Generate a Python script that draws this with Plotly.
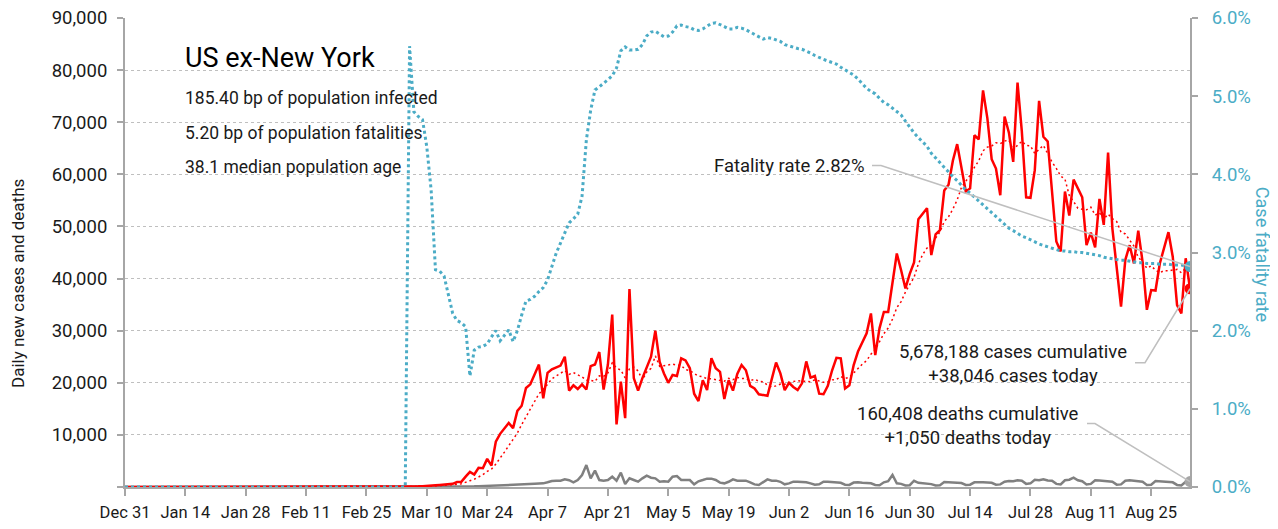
import pandas as pd
import plotly.graph_objects as go

start_date = "2019-12-31"

daily_cases = [
    0, 0, 0, 0, 0, 0, 0, 0, 0, 0, 0, 0, 0, 0, 0, 0, 0, 0, 0, 0, 0,
    1, 0, 0, 0, 1, 0, 0, 0, 0, 0, 1, 0, 0, 0, 0, 0, 0, 0, 0, 0, 0, 0, 0, 0, 0,
    0, 0, 0, 0, 0, 1, 0, 1, 2, 5, 8, 10, 5, 15, 20, 25, 30, 45, 55, 70,
    60, 90, 120, 150, 250, 300, 350, 400, 450, 550,
    600, 950, 1000, 2000, 2900, 2400, 3700, 3600, 5400, 4100,
    8700, 10200, 11200, 12300, 11300, 14600, 15600, 19000, 19700, 21500,
    23500, 17000, 21900, 22600, 23000, 23300, 25000, 18500, 19500, 18800,
    19700, 18700, 23200, 23500, 25900, 18700, 23500, 33100, 12000, 20200,
    13200, 38000, 20900, 18500, 20900, 22800, 25000, 30000, 24000, 21800,
    20000, 21500, 21300, 24700, 24300, 22800, 17900, 16500, 20500, 18600,
    24700, 22800, 22100, 16900, 20500, 18500, 21700, 23400, 22400, 19400,
    18900, 17800, 17600, 17500, 20700, 23900, 21800, 18600, 20000, 19200,
    18600, 19900, 24100, 21000, 21300, 17900, 17800, 19400, 22400, 24800,
    24700, 18900, 19500, 23400, 26000, 27800, 29500, 33300, 25300, 30500,
    33600, 33600, 39700, 44800, 41600, 38100, 40900, 43100, 51400, 52400,
    53500, 44500, 48500, 49300, 56900, 58000, 62600, 65800, 61500, 56700,
    57300, 67500, 66700, 76100, 70800, 62900, 61100, 56000, 71100, 68000,
    62400, 77600, 68200, 55600, 55500, 60800, 74100, 67200, 66300, 57000,
    47100, 45200, 56700, 52100, 59000, 57300, 55600, 46400, 48800, 46000,
    55300, 50300, 64200, 49600, 42300, 34600, 43600, 46400, 42900, 49200,
    43200, 34000, 37800, 37700, 42900, 45900, 48900, 44200, 34900, 33300,
    43900, 38046,
]

daily_deaths = [
    0, 0, 0, 0, 0, 0, 0, 0, 0, 0, 0, 0, 0, 0, 0, 0, 0, 0, 0, 0,
    0, 0, 0, 0, 0, 0, 0, 0, 0, 0, 0, 0, 0, 0, 0, 0, 0, 0, 0, 0,
    0, 0, 0, 0, 0, 0, 0, 0, 0, 0, 0, 0, 0, 0, 0, 0, 0, 0, 0, 0,
    1, 0, 1, 2, 1, 3,
    2, 3, 4, 5, 8, 10, 12, 15, 20, 25,
    40, 50, 60, 80, 100, 120, 150, 180, 200, 220,
    200, 230, 260, 300, 330, 380, 420, 480, 550, 600,
    650, 700, 900, 1150, 1220, 1220, 1470, 1300, 900, 1340,
    2300, 4220, 1660, 3140, 1340, 1220, 1340, 1980, 1220, 2750,
    580, 1660, 1340, 1020, 1660, 2170, 1790, 1660, 1020, 1100,
    1020, 1980, 2110, 1340, 1340, 1340, 510, 1100, 1340, 1600,
    1600, 1340, 830, 700, 1000, 1470, 1220, 1220, 1220, 900,
    500, 380, 900, 1470, 1220, 1220, 1000, 510, 700, 1020,
    1020, 1020, 900, 700, 450, 510, 1020, 1000, 900, 850,
    800, 450, 400, 850, 900, 800, 750, 700, 400, 350,
    900, 1100, 2300, 700, 600, 300, 350, 1200, 800, 750,
    600, 550, 300, 350, 950, 900, 850, 800, 750, 400,
    450, 900, 950, 900, 850, 800, 450, 500, 1000, 1150,
    1100, 1300, 1200, 600, 700, 1400, 1300, 1500, 1250, 1200,
    600, 500, 1300, 1400, 1800, 1300, 1100, 500, 600, 1300,
    1250, 1200, 1100, 1000, 450, 500, 1200, 1300, 1200, 1150,
    1000, 400, 450, 1150, 1100, 1050, 1000, 900, 400, 300,
    1000, 1050,
]

fatality_rate_pct = [
    0, 0, 0, 0, 0, 0, 0, 0, 0, 0, 0, 0, 0, 0, 0, 0, 0, 0, 0, 0,
    0, 0, 0, 0, 0, 0, 0, 0, 0, 0, 0, 0, 0, 0, 0, 0, 0, 0, 0, 0,
    0, 0, 0, 0, 0, 0, 0, 0, 0, 0, 0, 0, 0, 0, 0, 0, 0, 0, 0, 0,
    0, 0, 0, 0, 0, 0,
    5.64, 4.80, 4.74, 4.70, 4.35, 3.80, 2.78, 2.76, 2.70, 2.45,
    2.22, 2.13, 2.10, 2.05, 1.42, 1.75, 1.79, 1.80, 1.83, 1.92,
    2.00, 1.87, 1.94, 2.01, 1.86, 2.00, 2.20, 2.38, 2.40, 2.44,
    2.50, 2.55, 2.65, 2.82, 2.99, 3.12, 3.25, 3.38, 3.43, 3.49,
    3.72, 4.44, 4.82, 5.08, 5.12, 5.16, 5.21, 5.26, 5.36, 5.58,
    5.63, 5.59, 5.59, 5.60, 5.66, 5.77, 5.82, 5.83, 5.80, 5.76,
    5.77, 5.82, 5.90, 5.91, 5.89, 5.88, 5.85, 5.84, 5.86, 5.90,
    5.93, 5.94, 5.92, 5.89, 5.86, 5.86, 5.88, 5.87, 5.85, 5.82,
    5.79, 5.76, 5.73, 5.75, 5.74, 5.72, 5.70, 5.66, 5.64, 5.63,
    5.61, 5.60, 5.58, 5.55, 5.52, 5.49, 5.47, 5.45, 5.43, 5.41,
    5.37, 5.34, 5.30, 5.27, 5.22, 5.16, 5.10, 5.06, 5.03, 4.97,
    4.92, 4.89, 4.85, 4.80, 4.76, 4.68, 4.60, 4.53, 4.47, 4.41,
    4.36, 4.27, 4.21, 4.15, 4.08, 4.02, 3.97, 3.92, 3.86, 3.80,
    3.76, 3.71, 3.66, 3.61, 3.55, 3.50, 3.45, 3.40, 3.35, 3.31,
    3.28, 3.24, 3.21, 3.19, 3.16, 3.13, 3.11, 3.09, 3.07, 3.06,
    3.04, 3.02, 3.02, 3.01, 3.01, 3.00, 3.00, 2.99, 2.98, 2.97,
    2.96, 2.94, 2.93, 2.92, 2.91, 2.90, 2.90, 2.89, 2.88, 2.87,
    2.87, 2.86, 2.86, 2.86, 2.85, 2.85, 2.85, 2.84, 2.84, 2.84,
    2.83, 2.82,
]

x_tick_labels = ["Dec 31", "Jan 14", "Jan 28", "Feb 11", "Feb 25", "Mar 10",
                 "Mar 24", "Apr 7", "Apr 21", "May 5", "May 19", "Jun 2",
                 "Jun 16", "Jun 30", "Jul 14", "Jul 28", "Aug 11", "Aug 25"]
left_ticks = [0, 10000, 20000, 30000, 40000, 50000, 60000, 70000, 80000, 90000]
right_ticks = [0, 1, 2, 3, 4, 5, 6]

title_text = "US ex-New York"
info_lines = ["185.40 bp of population infected",
              "5.20 bp of population fatalities",
              "38.1 median population age"]
cumulative_cases = 5678188
cumulative_deaths = 160408

FONT = "Roboto, Liberation Sans, Arial, sans-serif"
BLUE = "#4bacc6"
RED = "#ff0000"
GREY = "#808080"
AXIS = "#a6a6a6"
TXT = "#1a1a1a"

dates = pd.date_range(start_date, periods=len(daily_cases), freq="D")
cases_ma = pd.Series(daily_cases).rolling(7, min_periods=1).mean()
last = dates[-1].strftime("%Y-%m-%d")
tick_dates = [d.strftime("%Y-%m-%d") for d in pd.date_range(start_date, periods=len(x_tick_labels), freq="14D")]

fig = go.Figure()
fig.add_trace(go.Scatter(x=dates, y=daily_deaths, mode="lines",
                         line=dict(color=GREY, width=2.5), hoverinfo="skip"))
fig.add_trace(go.Scatter(x=dates, y=daily_cases, mode="lines",
                         line=dict(color=RED, width=2.5), hoverinfo="skip"))
fig.add_trace(go.Scatter(x=dates, y=cases_ma, mode="lines",
                         line=dict(color=RED, width=1.5, dash="2px,3px"), hoverinfo="skip"))
fig.add_trace(go.Scatter(x=[last], y=[daily_deaths[-1]], mode="markers",
                         marker=dict(color="#a6a6a6", size=11)))
fig.add_trace(go.Scatter(x=[last], y=[daily_cases[-1]], mode="markers",
                         marker=dict(color=RED, size=11)))
fig.add_trace(go.Scatter(x=dates, y=fatality_rate_pct, mode="lines", yaxis="y2",
                         line=dict(color=BLUE, width=3, dash="3px,3px"), hoverinfo="skip"))
fig.add_trace(go.Scatter(x=[last], y=[fatality_rate_pct[-1]], mode="markers", yaxis="y2",
                         marker=dict(color=BLUE, size=11)))

# connector lines (pixel offsets from the last data points)
conn = dict(color="#bfbfbf", width=1.5)
fig.add_shape(type="path", xref="x", yref="y2", xsizemode="pixel", ysizemode="pixel",
              xanchor=last, yanchor=fatality_rate_pct[-1],
              path="M0,0 L-309,101 L-318,101", line=conn, layer="above")
fig.add_shape(type="path", xref="x", yref="y", xsizemode="pixel", ysizemode="pixel",
              xanchor=last, yanchor=daily_cases[-1],
              path="M0,0 L-45,-74 L-55,-74", line=conn, layer="above")
fig.add_shape(type="path", xref="x", yref="y", xsizemode="pixel", ysizemode="pixel",
              xanchor=last, yanchor=daily_deaths[-1],
              path="M0,0 L-95,58 L-103,58", line=conn, layer="above")

ann_font = dict(family=FONT, size=18.5, color=TXT)
info_font = dict(family=FONT, size=17.5, color=TXT)
annotations = [
    dict(text=title_text, xref="paper", yref="paper", x=0.0545, y=0.915,
         xanchor="left", yanchor="middle", showarrow=False,
         font=dict(family=FONT, size=27, color="#000000")),
]
for line, ypos in zip(info_lines, [0.829, 0.755, 0.682]):
    annotations.append(dict(text=line, xref="paper", yref="paper", x=0.0545, y=ypos,
                            xanchor="left", yanchor="middle", showarrow=False, font=info_font))
annotations.append(dict(text=f"Fatality rate {fatality_rate_pct[-1]:.2f}%", xref="x", yref="y2",
                        x=last, y=fatality_rate_pct[-1], xanchor="right", yanchor="middle",
                        xshift=-323, yshift=101, showarrow=False, font=ann_font))
annotations.append(dict(text=f"{cumulative_cases:,} cases cumulative<br>+{daily_cases[-1]:,} cases today",
                        xref="x", yref="y", x=last, y=daily_cases[-1], xanchor="right",
                        yanchor="middle", align="center", xshift=-61, yshift=-75,
                        showarrow=False, font=ann_font))
annotations.append(dict(text=f"{cumulative_deaths:,} deaths cumulative<br>+{daily_deaths[-1]:,} deaths today",
                        xref="x", yref="y", x=last, y=daily_deaths[-1], xanchor="right",
                        yanchor="middle", align="center", xshift=-109, yshift=56,
                        showarrow=False, font=ann_font))
annotations.append(dict(text="Daily new cases and deaths", xref="paper", yref="paper",
                        x=-0.1005, y=0.435, textangle=-90, showarrow=False,
                        xanchor="center", yanchor="middle",
                        font=dict(family=FONT, size=17, color=TXT)))
annotations.append(dict(text="Case fatality rate", xref="paper", yref="paper",
                        x=1.0676, y=0.495, textangle=90, showarrow=False,
                        xanchor="center", yanchor="middle",
                        font=dict(family=FONT, size=18, color=BLUE)))

# The page body has an 8px default margin, so the figure is sized to fit the window.
fig.update_layout(
    width=1270, height=521,
    margin=dict(l=117, r=88, t=10, b=42, autoexpand=False),
    paper_bgcolor="white", plot_bgcolor="white",
    showlegend=False,
    font=dict(family=FONT, size=17, color=TXT),
    annotations=annotations,
    xaxis=dict(type="date", range=[dates[0], dates[-1]], tickvals=tick_dates,
               ticktext=x_tick_labels, showgrid=False, zeroline=False, automargin=False,
               showline=True, linecolor=AXIS, linewidth=2,
               ticks="outside", ticklen=7, tickcolor=AXIS, tickwidth=1.5,
               ticklabelstandoff=2, ticklabeloverflow="allow",
               tickfont=dict(family=FONT, size=16.5, color=TXT)),
    yaxis=dict(range=[0, 90000], tickvals=left_ticks, automargin=False,
               ticktext=["" if v == 0 else f"{v:,}" for v in left_ticks],
               showgrid=True, gridcolor="#bfbfbf", griddash="dot", gridwidth=1,
               zeroline=False, showline=True, linecolor=AXIS, linewidth=2,
               ticks="outside", ticklen=6, tickcolor=AXIS, tickwidth=1.5,
               ticklabelstandoff=6, ticklabeloverflow="allow",
               tickfont=dict(family=FONT, size=18.5, color=TXT)),
    yaxis2=dict(range=[0, 6], overlaying="y", side="right", tickvals=right_ticks,
                ticktext=[f"{v:.1f}%" for v in right_ticks], automargin=False,
                showgrid=False, zeroline=False, showline=True, linecolor=AXIS, linewidth=2,
                ticks="outside", ticklen=6, tickcolor=AXIS, tickwidth=1.5,
                ticklabelstandoff=10, ticklabeloverflow="allow",
                tickfont=dict(family=FONT, size=18.5, color=BLUE)),
)

fig.write_html("out.html")
